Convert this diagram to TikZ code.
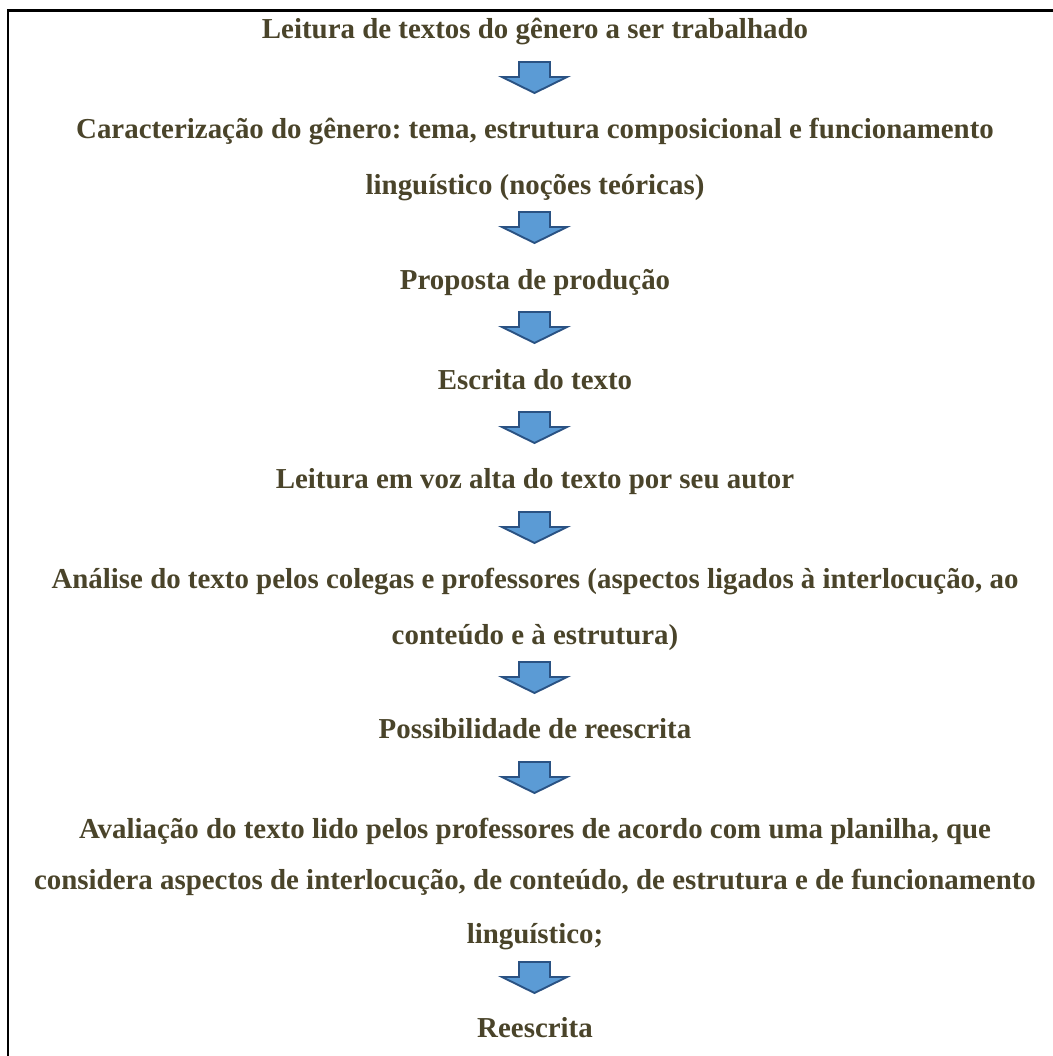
\documentclass[tikz,border=0pt]{standalone}
\usepackage{fontspec}
\setmainfont{Liberation Serif}
\frenchspacing
\definecolor{txt}{HTML}{4A442A}
\definecolor{arrfill}{HTML}{5B9BD5}
\definecolor{arrline}{HTML}{2A5283}
\tikzset{
  lbl/.style={anchor=base, inner sep=0pt, text=txt, font=\fontsize{28.9}{34}\selectfont\bfseries},
  frameline/.style={line width=2.6pt, black},
  downarrow/.pic={
    \draw[fill=arrfill, draw=arrline, line width=1.9pt, line join=miter]
      (-15.5,0) -- (15.5,0) -- (15.5,15) -- (32.5,15) -- (0,31) -- (-32.5,15) -- (-15.5,15) -- cycle;
  }
}
\begin{document}
\begin{tikzpicture}[x=1pt,y=-1pt]
\useasboundingbox (0,0) rectangle (1052,1056);
\coordinate (fc) at (8,10.3);
\coordinate (fr) at (1053,10.3);
\coordinate (fb) at (8,1057);
\draw[frameline] (fr) -- (fc) -- (fb);

\node[lbl] (t1) at (535,39) {Leitura de textos do gênero a ser trabalhado};
\pic at (534.5,62) {downarrow};
\node[lbl] (t2) at (535,139) {Caracterização do gênero: tema, estrutura composicional e funcionamento};
\node[lbl] (t3) at (535,195) {linguístico (noções teóricas)};
\pic at (534.5,212) {downarrow};
\node[lbl] (t4) at (535,289) {Proposta de produção};
\pic at (534.5,312) {downarrow};
\node[lbl] (t5) at (535,389) {Escrita do texto};
\pic at (534.5,412) {downarrow};
\node[lbl] (t6) at (535,488) {Leitura em voz alta do texto por seu autor};
\pic at (534.5,512) {downarrow};
\node[lbl] (t7) at (535,588) {Análise do texto pelos colegas e professores (aspectos ligados à interlocução, ao};
\node[lbl] (t8) at (535,644) {conteúdo e à estrutura)};
\pic at (534.5,662) {downarrow};
\node[lbl] (t9) at (535,738) {Possibilidade de reescrita};
\pic at (534.5,762) {downarrow};
\node[lbl] (t10) at (535,838) {Avaliação do texto lido pelos professores de acordo com uma planilha, que};
\node[lbl] (t11) at (535,889) {considera aspectos de interlocução, de conteúdo, de estrutura e de funcionamento};
\node[lbl] (t12) at (535,943) {linguístico;};
\pic at (534.5,962) {downarrow};
\node[lbl] (t13) at (535,1037) {Reescrita};
\end{tikzpicture}
\end{document}
